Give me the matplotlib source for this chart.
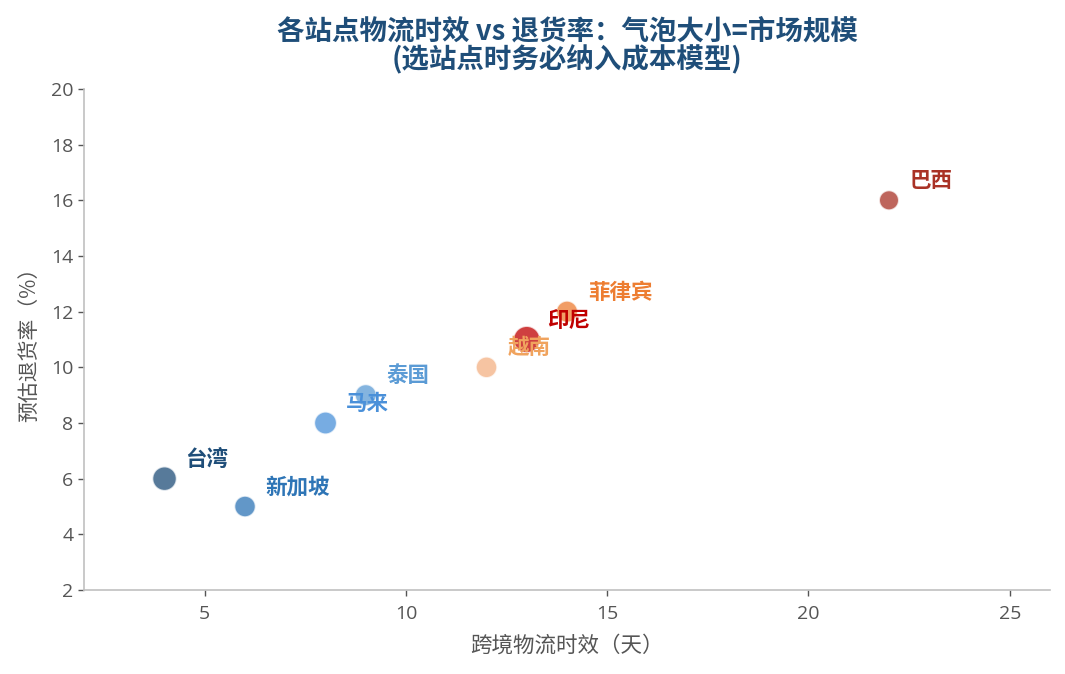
import matplotlib
matplotlib.use("Agg")
import matplotlib.pyplot as plt

plt.rcParams['font.family'] = ['Noto Sans CJK SC', 'DejaVu Sans']

sites = ['台湾', '新加坡', '马来', '泰国', '越南', '印尼', '菲律宾', '巴西']
logistics_days = [4, 6, 8, 9, 12, 13, 14, 22]
return_rate = [6, 5, 8, 9, 10, 11, 12, 16]
market_size = [300, 230, 260, 240, 230, 370, 240, 200]
point_colors = ['#1f4e79', '#2e75b6', '#4a90d9', '#5b9bd5', '#f4b183', '#c00000', '#ed7d31', '#a93226']
label_colors = ['#1f4e79', '#2e75b6', '#4a90d9', '#5b9bd5', '#f0a35e', '#c00000', '#ed7d31', '#a93226']

fig = plt.figure(figsize=(10.65, 6.74), dpi=100)
ax = fig.add_axes([0.0789, 0.1246, 0.907, 0.7434])

ax.scatter(logistics_days, return_rate, s=market_size, c=point_colors, alpha=0.75,
           edgecolors='white', linewidths=1.2, zorder=3)

for name, x, y, col in zip(sites, logistics_days, return_rate, label_colors):
    ax.annotate(name, (x, y), xytext=(15, 14), textcoords='offset points',
                ha='left', va='center', fontsize=15.5, fontweight='bold', color=col, zorder=4)

ax.set_xlim(2, 26)
ax.set_ylim(2, 20)
ax.set_xticks([5, 10, 15, 20, 25])
ax.set_yticks(list(range(2, 21, 2)))

for s in ['top', 'right']:
    ax.spines[s].set_visible(False)
for s in ['left', 'bottom']:
    ax.spines[s].set_color('#c0c0c0')
    ax.spines[s].set_linewidth(1.2)
ax.tick_params(colors='#555555', labelsize=14, length=4, width=1)
ax.tick_params(axis='x', pad=7)
for lab in ax.get_xticklabels() + ax.get_yticklabels():
    lab.set_fontfamily(['Open Sans', 'DejaVu Sans'])

ax.set_xlabel('跨境物流时效（天）', fontsize=15.5, color='#555555', labelpad=8)
ax.set_ylabel('预估退货率（%）', fontsize=15, color='#555555', labelpad=8)
ax.set_title('各站点物流时效 vs 退货率：气泡大小=市场规模\n(选站点时务必纳入成本模型)',
             fontsize=19.8, fontweight='bold', color='#1f4e79', linespacing=0.98, pad=15)

fig.savefig('out.png', dpi=100)
